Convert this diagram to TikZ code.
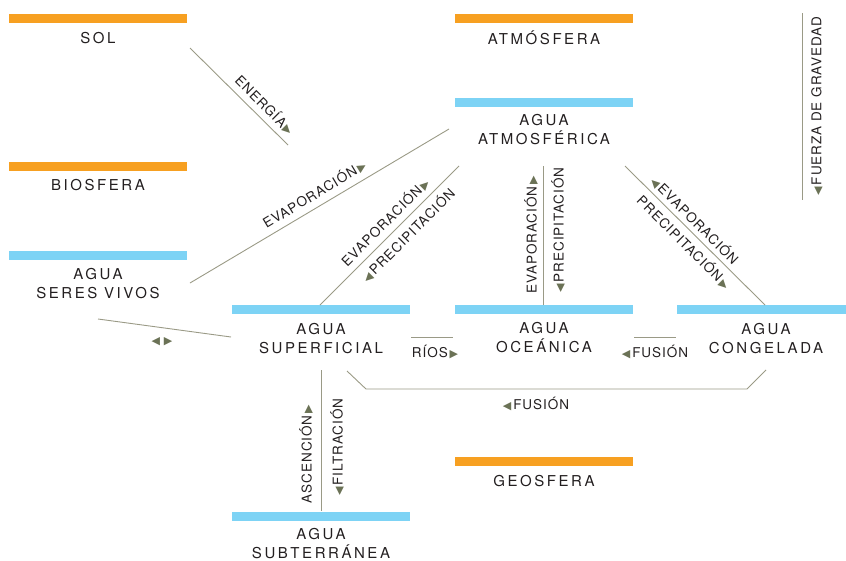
\documentclass[tikz,border=0pt]{standalone}
\usepackage{fontspec}
\setmainfont{TeX Gyre Heros}
\newfontfamily\boxfont{TeX Gyre Heros}[LetterSpace=17]
\newfontfamily\flowfont{TeX Gyre Heros}[LetterSpace=7]
\newfontfamily\trifont{DejaVu Sans}
\usetikzlibrary{positioning}
\definecolor{cycleorange}{HTML}{F7A021}
\definecolor{cycleblue}{HTML}{7DD3F5}
\definecolor{cycleline}{HTML}{9A9A86}
\definecolor{cyclearrow}{HTML}{6B7256}
\definecolor{cycletext}{HTML}{231F20}
\newcommand\flowR{{\trifont\fontsize{11}{10}\selectfont\color{cyclearrow}\,\char"25B6}}
\newcommand\flowL{{\trifont\fontsize{11}{10}\selectfont\color{cyclearrow}\char"25C0\,}}

\begin{document}
\begin{tikzpicture}[x=1pt,y=-1pt,
      bar/.style={fill=#1,minimum width=178pt,minimum height=9pt,inner sep=0pt},
      boxname/.style={font=\boxfont\fontsize{15}{19}\selectfont,text=cycletext,align=center,inner sep=0pt},
      flowname/.style={font=\flowfont\fontsize{13.5}{15}\selectfont,text=cycletext,inner sep=0pt},
      flow/.style={draw=cycleline,line width=0.9pt}]
    \useasboundingbox (0,0) rectangle (846,560);
    % orange reservoirs
    \node[bar=cycleorange] (sol) at (98,18.5) {};
    \node[boxname] (sol-name) at (98,38) {SOL};
    \node[bar=cycleorange] (bio) at (98,166) {};
    \node[boxname] (bio-name) at (98,185) {BIOSFERA};
    \node[bar=cycleorange] (atm) at (544,18.5) {};
    \node[boxname] (atm-name) at (544,37.5) {ATMÓSFERA};
    \node[bar=cycleorange] (geo) at (544,461.5) {};
    \node[boxname] (geo-name) at (544,481) {GEOSFERA};
    % water reservoirs
    \node[bar=cycleblue] (vivos) at (98,255) {};
    \node[boxname] (vivos-name) at (98,283.5) {AGUA\\SERES VIVOS};
    \node[bar=cycleblue] (aire) at (544,102) {};
    \node[boxname] (aire-name) at (544,130) {AGUA\\ATMOSFÉRICA};
    \node[bar=cycleblue] (sup) at (321,309.5) {};
    \node[boxname] (sup-name) at (321,338.5) {AGUA\\SUPERFICIAL};
    \node[bar=cycleblue] (mar) at (544,309.5) {};
    \node[boxname] (mar-name) at (544,338) {AGUA\\OCEÁNICA};
    \node[bar=cycleblue,minimum width=169pt] (hielo) at (761.5,309.5) {};
    \node[boxname] (hielo-name) at (766,338.5) {AGUA\\CONGELADA};
    \node[bar=cycleblue] (sub) at (321,516.5) {};
    \node[boxname] (sub-name) at (321,543.5) {AGUA\\SUBTERRÁNEA};
    % connector ends
    \coordinate (ene-a) at (190,48);   \coordinate (ene-b) at (288,145);
    \coordinate (eva-a) at (190,283);  \coordinate (eva-b) at (449,129);
    \coordinate (sa-a) at (320,305);   \coordinate (sa-b) at (459,166);
    \coordinate (ma-a) at (543,305);   \coordinate (ma-b) at (543,166);
    \coordinate (ha-a) at (765,305);   \coordinate (ha-b) at (625,166);
    \coordinate (vs-a) at (98,319);    \coordinate (vs-b) at (231,337);
    \coordinate (rio-a) at (411,337);  \coordinate (rio-b) at (453,337);
    \coordinate (fus-a) at (634,337);  \coordinate (fus-b) at (676,337);
    \coordinate (fl-a) at (766,370);   \coordinate (fl-b) at (747,389);
    \coordinate (fl-c) at (366,389);   \coordinate (fl-d) at (347,371);
    \coordinate (ss-a) at (321,370);   \coordinate (ss-b) at (321,511);
    \coordinate (grav-a) at (802,13);  \coordinate (grav-b) at (802,200);
    % connectors
    \draw[flow] (ene-a) -- (ene-b);
    \draw[flow] (eva-a) -- (eva-b);
    \draw[flow] (sa-a) -- (sa-b);
    \draw[flow] (ma-a) -- (ma-b);
    \draw[flow] (ha-a) -- (ha-b);
    \draw[flow] (vs-a) -- (vs-b);
    \draw[flow] (rio-a) -- (rio-b);
    \draw[flow] (fus-a) -- (fus-b);
    \draw[flow] (fl-a) -- (fl-b) -- (fl-c) -- (fl-d);
    \draw[flow] (ss-a) -- (ss-b);
    \draw[flow] (grav-a) -- (grav-b);
    % connector labels
    \node[flowname,rotate=-45] (ene-t) at (265,105) {ENERGÍA\flowR};
    \node[flowname,rotate=31] (eva-t) at (314,194) {EVAPORACIÓN\flowR};
    \node[flowname,rotate=45] (sa-up) at (385,222) {EVAPORACIÓN\flowR};
    \node[flowname,rotate=45] (sa-down) at (408,235) {\flowL PRECIPITACIÓN};
    \node[flowname,rotate=90] (ma-up) at (531,235) {EVAPORACIÓN\flowR};
    \node[flowname,rotate=90] (ma-down) at (558,230) {\flowL PRECIPITACIÓN};
    \node[flowname,rotate=-45] (ha-up) at (695,220) {\flowL EVAPORACIÓN};
    \node[flowname,rotate=-45] (ha-down) at (684,242) {PRECIPITACIÓN\flowR};
    \node[flowname] (vs-t) at (162,342) {\flowL\flowR};
    \node[flowname] (rio-t) at (435,352) {RÍOS\flowR};
    \node[flowname] (fus-t) at (655,352) {\flowL FUSIÓN};
    \node[flowname] (fl-t) at (536,404) {\flowL FUSIÓN};
    \node[flowname,rotate=90] (ss-up) at (306,454) {ASCENCIÓN\flowR};
    \node[flowname,rotate=90] (ss-down) at (337,447) {\flowL FILTRACIÓN};
    \node[flowname,rotate=90] (grav-t) at (817,106) {\flowL FUERZA DE GRAVEDAD};
\end{tikzpicture}
\end{document}
